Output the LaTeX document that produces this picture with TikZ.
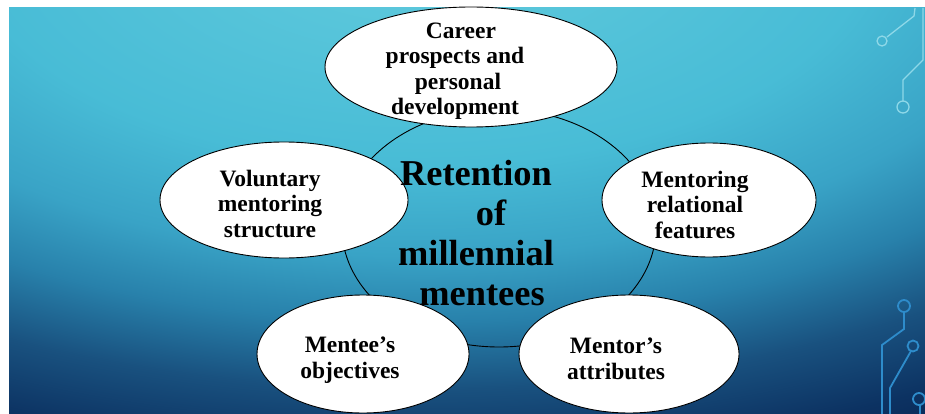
\documentclass[tikz,border=0pt]{standalone}
\usepackage{fontspec}
\setmainfont{Liberation Serif}
\usetikzlibrary{shapes.geometric}

\definecolor{bgA}{HTML}{62CBDD}
\definecolor{bgB}{HTML}{48BCD6}
\definecolor{bgC}{HTML}{39A3C6}
\definecolor{bgD}{HTML}{2881AB}
\definecolor{bgE}{HTML}{19517F}
\definecolor{bgF}{HTML}{0C3262}
\definecolor{bgG}{HTML}{08204C}
\definecolor{circA}{HTML}{8ED8E8}
\definecolor{circB}{HTML}{2E8CCB}
\pgfdeclareradialshading{slidebg}{\pgfpoint{0bp}{0bp}}{color(0bp)=(bgA); color(9.6bp)=(bgB); color(13.5bp)=(bgC); color(16.3bp)=(bgD); color(19.2bp)=(bgE); color(22.1bp)=(bgF); color(25bp)=(bgG); color(50bp)=(bgG)}

\begin{document}
\begin{tikzpicture}[x=1pt,y=-1pt,
  hub/.style={ellipse,draw=black,line width=0.9pt,inner sep=0pt},
  bubble/.style={ellipse,draw=black,line width=0.9pt,fill=white,inner sep=0pt},
  bubbletext/.style={align=center,anchor=base,inner sep=0pt,font=\fontsize{23.5}{25.5}\selectfont\bfseries},
  hubtext/.style={align=center,anchor=base,inner sep=0pt,font=\fontsize{36.4}{40}\selectfont\bfseries},
  circtop/.style={draw=circA,line width=1.3pt},
  circbot/.style={draw=circB,line width=1.8pt}]
 \useasboundingbox (0,0) rectangle (925,414);
 \fill[white] (0,0) rectangle (925,414);
 \begin{scope}
  \clip (9,8) rectangle (925,414);
  \shade[shading=slidebg] (420,-60) ellipse (1170 and 585);
  \draw[circtop] (915,8)--(914,16)--(887,37);
  \draw[circtop] (882,41) circle (5);
  \draw[circtop] (923,8)--(923,60)--(903,80)--(903,101);
  \draw[circtop] (903,107) circle (6);
  \draw[circbot] (904,312)--(904,329)--(882,345)--(882,416);
  \draw[circbot] (904,306) circle (6);
  \draw[circbot] (911,351)--(890,388)--(890,416);
  \draw[circbot] (913,346) circle (5.5);
  \draw[circbot] (920,405)--(920,416);
  \draw[circbot] (919,399) circle (6);
 \end{scope}

 \node[hub,minimum width=314pt,minimum height=238pt] (hub) at (499,228) {};
 \node[bubble,minimum width=292pt,minimum height=120pt] (career) at (471,67) {};
 \node[bubble,minimum width=248pt,minimum height=116pt] (voluntary) at (284,200) {};
 \node[bubble,minimum width=214pt,minimum height=114pt] (relational) at (709,200) {};
 \node[bubble,minimum width=212pt,minimum height=118pt] (menteeobj) at (363,354) {};
 \node[bubble,minimum width=220pt,minimum height=118pt] (mentorattr) at (629,354) {};

 \node[hubtext] (hubtext) at (476,305) {Retention\\\hspace*{30pt}of\\millennial\\\hspace*{12pt}mentees};
 \node[bubbletext] (careertext) at (455,115) {\hspace*{12pt}Career\\prospects and\\\hspace*{6pt}personal\\development};
 \node[bubbletext] (voluntarytext) at (270,237) {Voluntary\\mentoring\\structure};
 \node[bubbletext] (relationaltext) at (695,238) {Mentoring\\relational\\features};
 \node[bubbletext] (menteeobjtext) at (350,378) {Mentee’s\\objectives};
 \node[bubbletext] (mentorattrtext) at (616,379) {Mentor’s\\attributes};
\end{tikzpicture}
\end{document}
